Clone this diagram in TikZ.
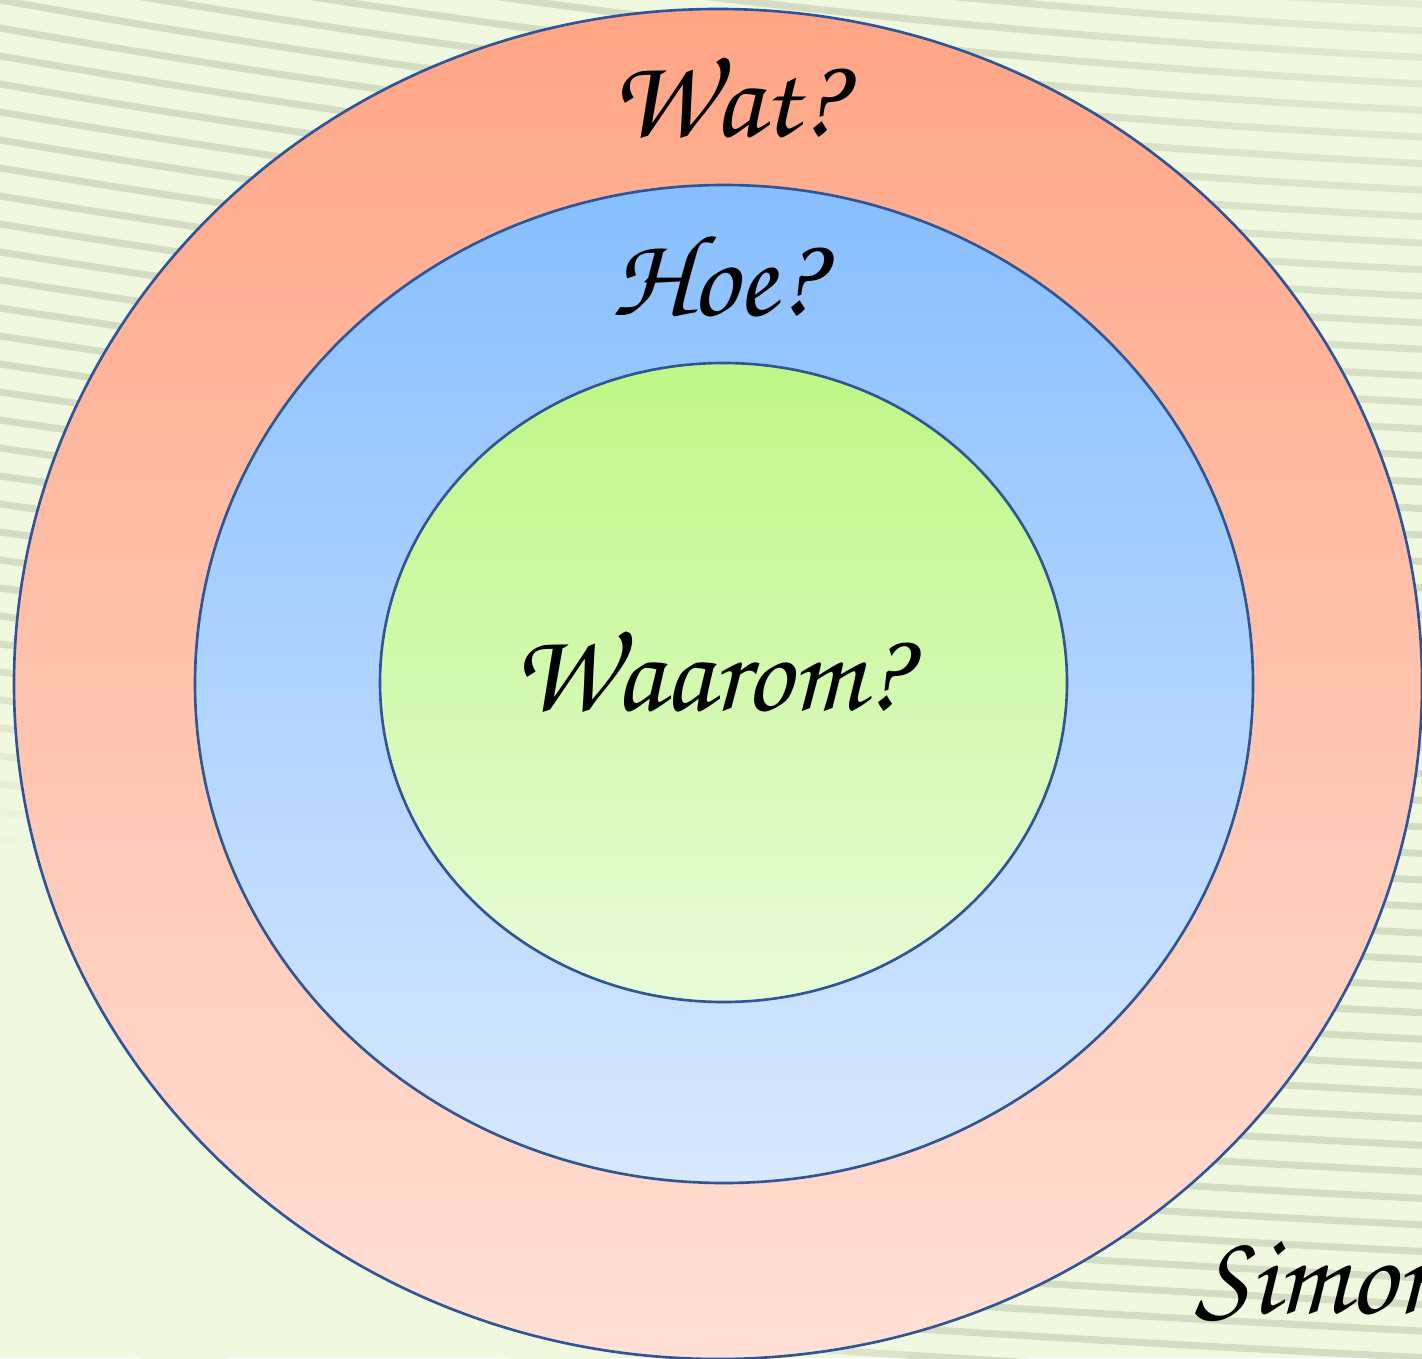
\documentclass[tikz,border=0pt]{standalone}
\usepackage{fontspec}
\IfFontExistsTF{texgyrechorus-mediumitalic.otf}
  {\newfontfamily\chorusfnt{texgyrechorus-mediumitalic.otf}}
  {\newfontfamily\chorusfnt{Liberation Serif}[FakeSlant=0.2]}
\definecolor{bgcol}{HTML}{F0F8E0}
\definecolor{stripecol}{HTML}{D4DCC4}
\definecolor{rim}{HTML}{2F5597}
\definecolor{outtop}{HTML}{FFA585}
\definecolor{outbot}{HTML}{FFE0D6}
\definecolor{midtop}{HTML}{87BEFF}
\definecolor{midbot}{HTML}{D8E8FF}
\definecolor{intop}{HTML}{BEF786}
\definecolor{inbot}{HTML}{E8FBD8}
\tikzset{
  ring/.style={draw=rim, line width=0.75pt},
  stripeseg/.style={line width=2pt, line cap=round},
  lbl/.style={font=\chorusfnt\fontsize{33}{33}\selectfont, text=black, anchor=base, inner sep=0pt}
}
\begin{document}
\begin{tikzpicture}[x=0.01cm,y=-0.01cm]
\useasboundingbox (0,0) rectangle (1422,1358);
\begin{scope}
\clip (0,0) rectangle (1422,1358);
\fill[bgcol] (0,0) rectangle (1422,1358);
\foreach \i in {-14,...,52} {
  \pgfmathsetmacro{\yz}{28*\i}
  \pgfmathsetmacro{\s}{0.18-0.1*\yz/1358}
  \foreach \k in {0,...,23} {
    \pgfmathsetmacro{\ua}{(-20+62*\k)/100}
    \pgfmathsetmacro{\ub}{\ua+0.62}
    \pgfmathsetmacro{\ya}{\yz+100*\s*\ua-3.516*(\s-0.05)*\ua*\ua}
    \pgfmathsetmacro{\yb}{\yz+100*\s*\ub-3.516*(\s-0.05)*\ub*\ub}
    \pgfmathsetmacro{\um}{\ua+0.31}
    \pgfmathsetmacro{\ym}{(\ya+\yb)/2}
    \pgfmathsetmacro{\da}{100*sqrt(\um*\um+(1.3*(1358-\ym)/100)^2)}
    \pgfmathsetmacro{\fa}{max(0,min(1,(\da-650)/300))}
    \pgfmathsetmacro{\db}{100*sqrt((14.22-\um)^2+(\ym/100)^2)}
    \pgfmathsetmacro{\fb}{0.5+0.5*max(0,min(1,\db/500))}
    \pgfmathsetmacro{\p}{100*\fa*\fb}
    \draw[stripeseg, color=stripecol!\p!bgcol] (100*\ua,\ya) -- (100*\ub,\yb);
  }
}
\end{scope}
\path[ring, top color=outtop, bottom color=outbot] (718,684) ellipse [x radius=704, y radius=675];
\path[ring, top color=midtop, bottom color=midbot] (724,684) ellipse [x radius=529, y radius=499];
\path[ring, top color=intop, bottom color=inbot] (723.5,682.5) ellipse [x radius=343.5, y radius=319.5];
\node[lbl] (wat) at (727,137) {Wat?};
\node[lbl] (hoe) at (716,315) {Hoe?};
\node[lbl] (waarom) at (710,710) {Waarom?};
\node[lbl, anchor=base west] (simon) at (1195,1313) {Simon};
\end{tikzpicture}
\end{document}
